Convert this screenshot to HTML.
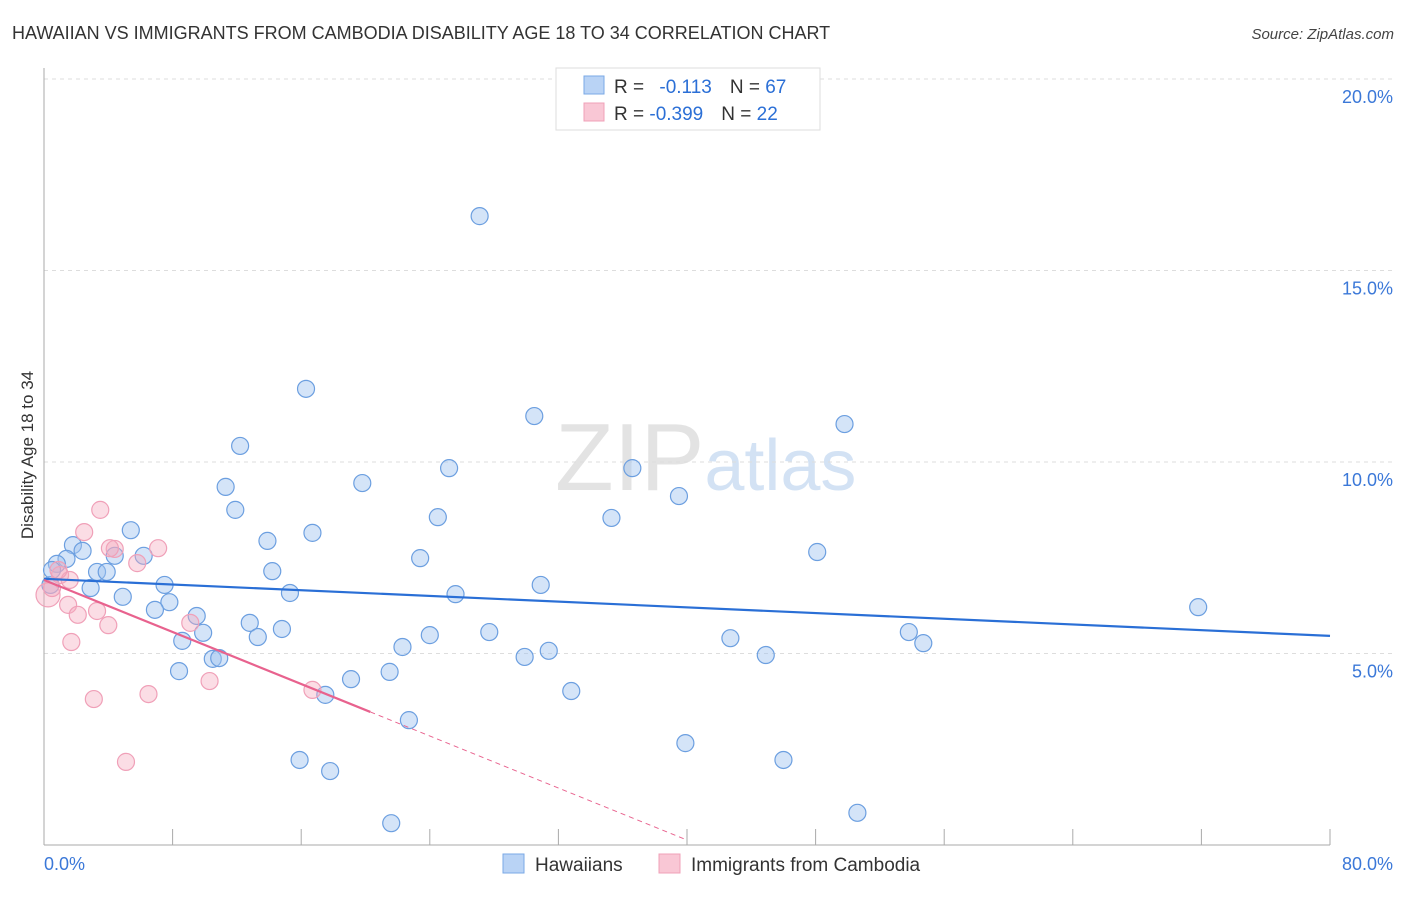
<!DOCTYPE html>
<html><head><meta charset="utf-8"><style>
body{margin:0;background:#fff;font-family:"Liberation Sans",sans-serif;}
svg text{font-family:"Liberation Sans",sans-serif;}
</style></head><body>
<svg id="chart" width="1406" height="892" viewBox="0 0 1406 892" xmlns="http://www.w3.org/2000/svg">
<text x="12" y="39" font-size="18" fill="#333">HAWAIIAN VS IMMIGRANTS FROM CAMBODIA DISABILITY AGE 18 TO 34 CORRELATION CHART</text>
<text x="1394" y="39" font-size="15" fill="#444" text-anchor="end" font-style="italic">Source: ZipAtlas.com</text>
<text transform="translate(33,455) rotate(-90)" font-size="17" fill="#333" text-anchor="middle">Disability Age 18 to 34</text>
<text x="555" y="490" font-size="96" fill="#ddd" font-family="Liberation Serif" opacity="0.8">ZIP<tspan fill="#c9dcf2" font-family="Liberation Sans" font-size="72">atlas</tspan></text>
<g id="grid"></g><g id="axes"></g><g id="pts"></g><g id="lines"></g>
<g>
<rect x="556" y="68" width="264" height="62" fill="#fff" stroke="#ddd"/>
<rect x="584" y="76" width="20" height="18" fill="#b9d3f5" stroke="#7aa8e6"/>
<rect x="584" y="103" width="20" height="18" fill="#f9c7d5" stroke="#f0a0b8"/>
<text x="614" y="93" font-size="19" fill="#333">R = <tspan fill="#2b6fd6" dx="10">-0.113</tspan><tspan fill="#333" dx="18">N = </tspan><tspan fill="#2b6fd6">67</tspan></text>
<text x="614" y="120" font-size="19" fill="#333">R = <tspan fill="#2b6fd6">-0.399</tspan><tspan fill="#333" dx="18">N = </tspan><tspan fill="#2b6fd6">22</tspan></text>
</g>
<g>
<rect x="503" y="854" width="21" height="19" fill="#b9d3f5" stroke="#7aa8e6"/>
<text x="535" y="871" font-size="19" fill="#333">Hawaiians</text>
<rect x="659" y="854" width="21" height="19" fill="#f9c7d5" stroke="#f0a0b8"/>
<text x="691" y="871" font-size="19" fill="#333">Immigrants from Cambodia</text>
</g>
</svg>
<script>
const yTicks=[5,10,15,20];
const xTickLabels=["0.0%","80.0%"];
const blueX=[27.1,16.3,30.5,49.8,12.2,25.2,36.6,11.3,19.8,39.5,11.9,24.5,35.3,5.4,16.7,13.9,1.8,2.4,4.4,6.2,23.4,48.1,1.4,0.8,14.2,3.3,3.9,7.5,30.9,2.9,15.3,25.6,4.9,7.8,6.9,9.5,71.8,12.8,9.9,14.8,27.7,24.0,53.8,8.6,13.3,42.7,54.7,22.3,10.5,10.9,29.9,31.4,44.9,8.4,21.5,19.1,32.8,17.5,22.7,39.9,15.9,46.0,17.8,21.6,50.6,0.4,0.5];
const blueY=[16.42,11.91,11.2,10.99,10.42,9.84,9.84,9.35,9.45,9.11,8.75,8.56,8.54,8.22,8.15,7.94,7.83,7.68,7.55,7.55,7.49,7.65,7.47,7.34,7.15,7.13,7.13,6.79,6.79,6.71,6.58,6.55,6.48,6.34,6.14,5.98,6.21,5.8,5.54,5.64,5.56,5.48,5.56,5.33,5.43,5.4,5.27,5.17,4.86,4.88,4.91,5.07,4.96,4.54,4.52,4.33,4.02,3.92,3.26,2.66,2.22,2.22,1.93,0.57,0.84,6.79,7.18];
const pinkX=[3.5,2.5,4.4,7.1,4.1,5.8,1.0,1.6,0.25,1.5,3.3,2.1,4.0,9.1,1.7,16.7,10.3,6.5,3.1,5.1,0.9,0.5];
const pinkY=[8.75,8.17,7.73,7.75,7.75,7.36,7.05,6.92,6.53,6.27,6.11,6.01,5.74,5.8,5.3,4.05,4.28,3.94,3.81,2.17,7.18,6.71];
const blueTrend=[6.95,5.46];
const pinkTrend=[6.92,0.13];
const pinkSolidEnd=20.3, pinkDashEnd=40;
const X=v=>44+v/80*1286, Y=v=>845-v/20*766;
const NS="http://www.w3.org/2000/svg";
function mk(tag,parent,attrs){const e=document.createElementNS(NS,tag);for(const k in attrs)e.setAttribute(k,attrs[k]);document.getElementById(parent).appendChild(e);return e;}
for(const t of yTicks){
 const g=mk('line','grid',{x1:44,x2:1394,y1:Y(t),y2:Y(t),stroke:'#ddd','stroke-dasharray':'4,4'});
 
 
 const tx=mk('text','grid',{x:1393,y:Y(t)+24,'font-size':18,fill:'#3b78d8','text-anchor':'end'});
 tx.textContent=t.toFixed(1)+'%';
 
 
}
const ya=mk('line','axes',{x1:44,x2:44,y1:68,y2:845,stroke:'#aaa'});


const xa=mk('line','axes',{x1:44,x2:1330,y1:845,y2:845,stroke:'#aaa'});


for(let i=0;i<=10;i++){const v=i*8;const tk=mk('line','axes',{x1:X(v),x2:X(v),y1:829,y2:845,stroke:'#aaa'});
 
 }
const l0=mk('text','axes',{x:44,y:870,'font-size':18,fill:'#3b78d8'});l0.textContent=xTickLabels[0];


const l1=mk('text','axes',{x:1393,y:870,'font-size':18,fill:'#3b78d8','text-anchor':'end'});l1.textContent=xTickLabels[1];


blueX.forEach((x,i)=>{const c=mk('circle','pts',{cx:X(x),cy:Y(blueY[i]),r:8.5,fill:'rgba(160,195,240,0.45)',stroke:'#6c9fe0','stroke-width':1.2});
 
 });
pinkX.forEach((x,i)=>{const c=mk('circle','pts',{cx:X(x),cy:Y(pinkY[i]),r:i==8?12:8.5,fill:'rgba(245,170,190,0.4)',stroke:'#f0a0b8','stroke-width':1.2});
 
 });
const bl=mk('line','lines',{x1:X(0),y1:Y(blueTrend[0]),x2:X(80),y2:Y(blueTrend[1]),stroke:'#2a6fd6','stroke-width':2.2});


const py=v=>pinkTrend[0]+(pinkTrend[1]-pinkTrend[0])*v/pinkDashEnd;
const pl=mk('line','lines',{x1:X(0),y1:Y(pinkTrend[0]),x2:X(pinkSolidEnd),y2:Y(py(pinkSolidEnd)),stroke:'#e8628e','stroke-width':2.2});


const pd=mk('line','lines',{x1:X(pinkSolidEnd),y1:Y(py(pinkSolidEnd)),x2:X(pinkDashEnd),y2:Y(pinkTrend[1]),stroke:'#e8628e','stroke-width':1,'stroke-dasharray':'5,4'});


</script>
</body></html>
